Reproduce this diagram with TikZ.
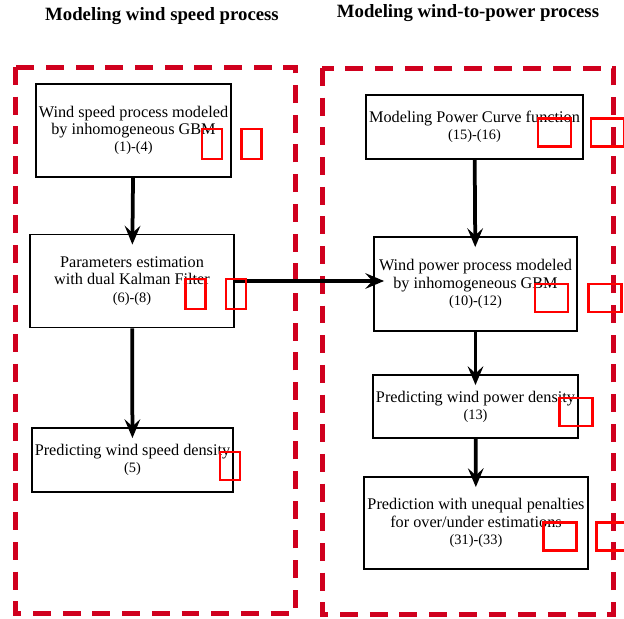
\documentclass[tikz,border=0pt]{standalone}
\usepackage{fontspec}
\setmainfont{Liberation Serif}
\usetikzlibrary{arrows.meta}
\definecolor{framered}{RGB}{208,0,30}
\newcommand{\pxu}{0.64pt}
\newcommand{\eqref}[1]{{\fontsize{9.2pt}{11pt}\selectfont #1}}

\begin{document}
\begin{tikzpicture}[x=0.64pt, y=-0.64pt]
        \useasboundingbox (0,0) rectangle (624,619);
        % group frames and their titles
        \draw[framered, line width=3.2pt, dash pattern=on 11.5pt off 7.5pt] (15,67) rectangle (295,613);
        \draw[framered, line width=3.2pt, dash pattern=on 11.5pt off 7.5pt] (322,68) rectangle (613,614);
        \begin{scope}[every node/.style={font=\large\bfseries, inner sep=0}]
            \node (TitleSpeed) at (162,16) {Modeling wind speed process};
            \node (TitlePower) at (468,13) {Modeling wind-to-power process};
        \end{scope}
        \begin{scope}[every node/.style={draw, line width=1.1pt, rectangle, inner sep=2, align=center, font=\fontsize{10.4pt}{11pt}\selectfont}]
            \node[minimum width=193*\pxu, minimum height=93*\pxu] (SpeedGBM) at (133.5,130.5) {Wind speed process modeled\\by inhomogeneous GBM\\\eqref{(1)-(4)}};
            \node[minimum width=204*\pxu, minimum height=93*\pxu] (Kalman) at (132,281) {Parameters estimation\\with dual Kalman Filter\\\eqref{(6)-(8)}};
            \node[minimum width=199*\pxu, minimum height=64*\pxu] (SpeedDensity) at (132.5,460) {Predicting wind speed density\\\eqref{(5)}};
            \node[minimum width=209*\pxu, minimum height=64*\pxu] (PowerCurve) at (474.5,127) {Modeling Power Curve function\\\eqref{(15)-(16)}};
            \node[minimum width=203*\pxu, minimum height=94*\pxu] (PowerGBM) at (475.5,284) {Wind power process modeled\\by inhomogeneous GBM\\\eqref{(10)-(12)}};
            \node[minimum width=203*\pxu, minimum height=63*\pxu] (PowerDensity) at (475.5,406.5) {Predicting wind power density\\\eqref{(13)}};
            \node[minimum width=224*\pxu, minimum height=92*\pxu] (Penalties) at (476,523) {Prediction with unequal penalties\\for over/under estimations\\\eqref{(31)-(33)}};
        \end{scope}
        \begin{scope}[every path/.style={line width=2.4pt, -{Stealth[length=12pt,width=10pt,inset=4.5pt]}, shorten >=-7pt}]
            \path (SpeedGBM) edge (Kalman);
            \path (Kalman) edge (SpeedDensity);
            \path (Kalman.east) edge (Kalman.east -| PowerGBM.west);
            \path (PowerCurve) edge (PowerGBM);
            \path (PowerGBM) edge (PowerDensity);
            \path (PowerDensity) edge (Penalties);
        \end{scope}
        % citation link boxes
        \begin{scope}[every node/.style={draw=red, line width=1.5pt, inner sep=0, minimum width=20*\pxu, minimum height=30*\pxu}]
            \node (LinkA1) at (212,144) {};
            \node (LinkA2) at (251.5,144) {};
            \node (LinkB1) at (195.5,294) {};
            \node (LinkB2) at (236,294) {};
            \node[minimum height=28*\pxu] (LinkC1) at (230,466) {};
        \end{scope}
        \begin{scope}[every node/.style={draw=red, line width=1.5pt, inner sep=0, minimum width=33*\pxu, minimum height=28*\pxu}]
            \node (LinkD1) at (554.5,132.5) {};
            \node (LinkD2) at (607.5,132.5) {};
            \node (LinkE1) at (551.5,298) {};
            \node (LinkE2) at (605,298) {};
            \node (LinkF1) at (576,412) {};
            \node (LinkG1) at (560,536.5) {};
            \node (LinkG2) at (613,536.5) {};
        \end{scope}
    \end{tikzpicture}
\end{document}
